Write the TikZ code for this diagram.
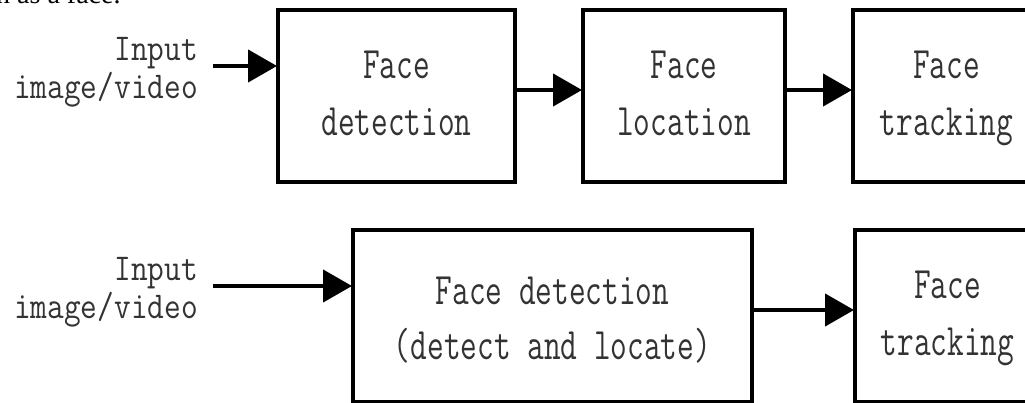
\documentclass[tikz,border=0pt]{standalone}
\usepackage{fontspec}
\setmainfont{Liberation Serif}
\usetikzlibrary{arrows.meta}

% centred (or right-aligned) lines of typewriter text, stretched vertically;
% #1 vertical stretch, #2 line spacing, #3 downward offset, #4 the lines
\newcommand{\stackc}[4]{\raisebox{-#3}[\height][\depth]{\scalebox{1}[#1]{\fontsize{32.4}{#2}\selectfont\begin{tabular}{@{}c@{}}#4\end{tabular}}}}
\newcommand{\stackr}[3]{\scalebox{1}[#1]{\fontsize{32.4}{#2}\selectfont\begin{tabular}{@{}r@{}}#3\end{tabular}}}

\begin{document}
\begin{tikzpicture}[x=1pt,y=-1pt,
  stagebox/.style={draw=black, line width=4pt, fill=white, inner sep=0pt,
    minimum height=172pt, font=\ttfamily, text=black!80},
  inlabel/.style={inner sep=0pt, font=\ttfamily, text=black!80},
  flow/.style={line width=4.5pt, -{Triangle[length=29pt,width=32pt]}, shorten >=-1pt}]

\useasboundingbox (0,0) rectangle (1025,403);
\clip (0,0) rectangle (1025,403);

% tail of the sentence above the figure
\node[anchor=base west, inner sep=0pt] (cap) at (-4,4) {\fontsize{28}{32}\selectfont n as a face.};

% upper pipeline: detection, location and tracking as separate stages
\node[inlabel, anchor=east] (in1) at (198,72) {\stackr{1.17}{32}{Input\\image/video}};
\node[stagebox, minimum width=237pt] (det) at (396.5,96) {\stackc{1.39}{41}{0pt}{Face\\detection}};
\node[stagebox, minimum width=202pt] (loc) at (684,96) {\stackc{1.39}{41}{0pt}{Face\\location}};
\node[stagebox, minimum width=187pt] (trk) at (946.5,96) {\stackc{1.39}{41}{0pt}{Face\\tracking}};

\draw[flow] ([yshift=6pt]in1.east) ++(15,0) coordinate (s1) -- (s1 -| det.west);
\draw[flow] ([yshift=6pt]det.east) -- ([yshift=6pt]loc.west);
\draw[flow] ([yshift=6pt]loc.east) -- ([yshift=6pt]trk.west);

% lower pipeline: detection and location merged into one stage
\node[inlabel, anchor=east] (in2) at (198,292) {\stackr{1.17}{32}{Input\\image/video}};
\node[stagebox, minimum width=399pt] (dl) at (552.5,316) {\stackc{1.39}{40}{5pt}{Face detection\\(detect and locate)}};
\node[stagebox, minimum width=185pt] (trk2) at (947.5,316) {\stackc{1.39}{41}{0pt}{Face\\tracking}};

\draw[flow] ([yshift=6pt]in2.east) ++(15,0) coordinate (s2) -- (s2 -| dl.west);
\draw[flow] ([yshift=6pt]dl.east) -- ([yshift=6pt]trk2.west);

\end{tikzpicture}
\end{document}
